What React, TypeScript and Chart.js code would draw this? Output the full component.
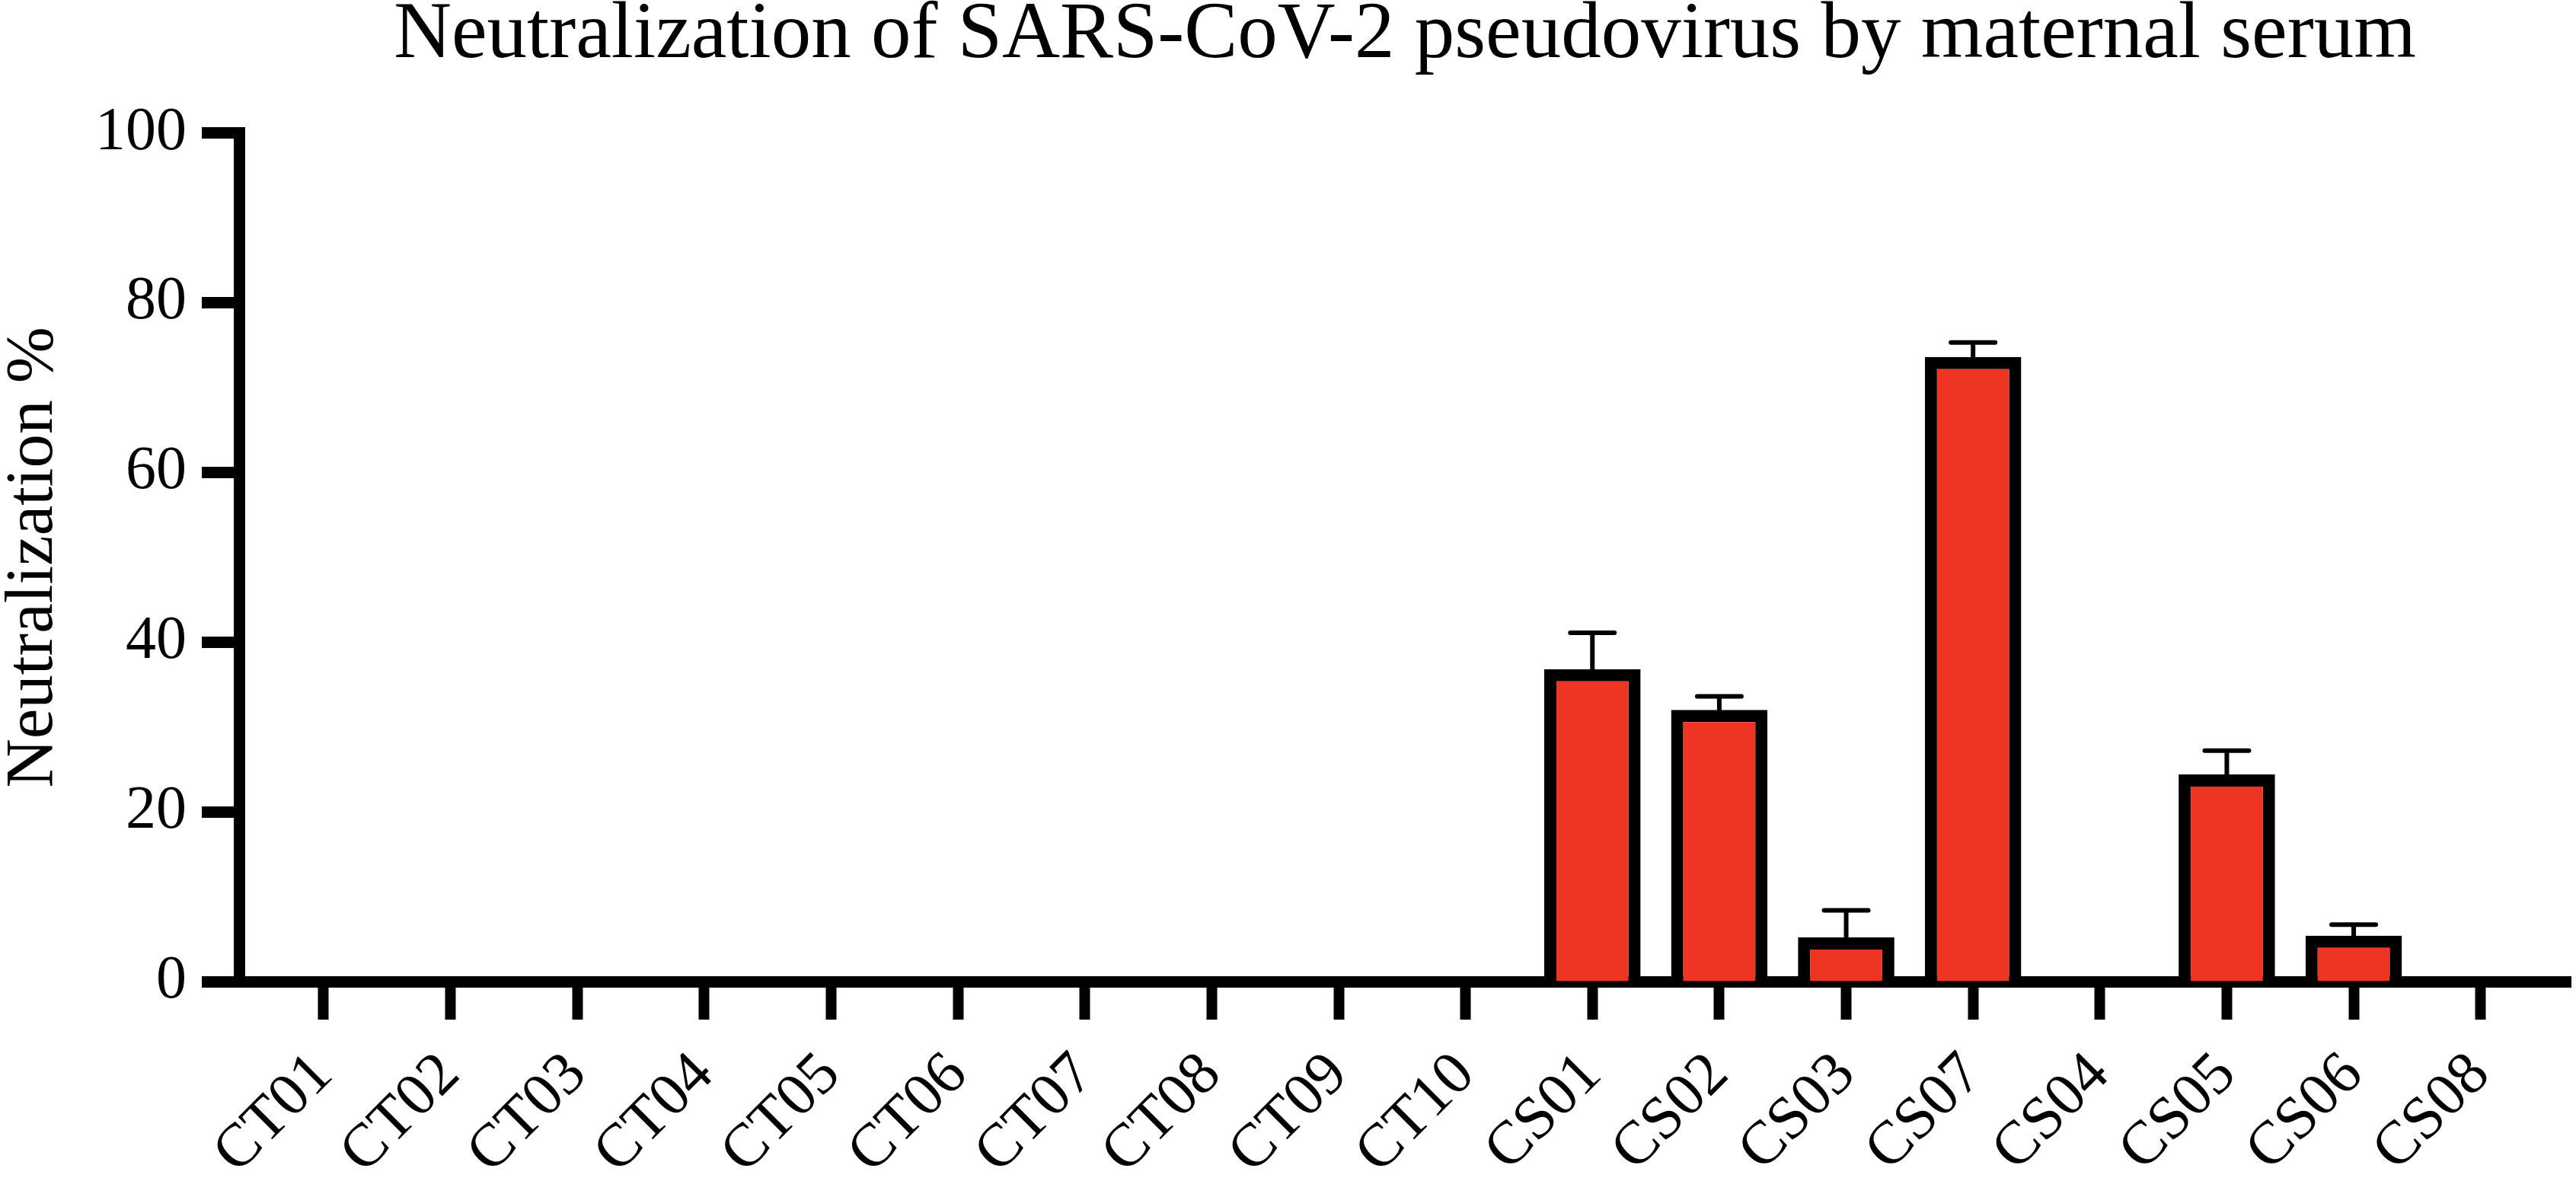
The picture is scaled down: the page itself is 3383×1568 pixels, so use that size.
import React, { useRef, useEffect } from 'react'
import { Chart, registerables } from 'chart.js'

Chart.register(...registerables)

// samples in plotted order
const categories = [
	'CT01', 'CT02', 'CT03', 'CT04', 'CT05', 'CT06', 'CT07', 'CT08', 'CT09', 'CT10',
	'CS01', 'CS02', 'CS03', 'CS07', 'CS04', 'CS05', 'CS06', 'CS08',
]
// mean neutralization %
const neutralization = [0, 0, 0, 0, 0, 0, 0, 0, 0, 0, 36.8, 32.0, 5.2, 73.6, 0, 24.4, 5.4, 0]
// upper error (SD)
const errorPlus = [0, 0, 0, 0, 0, 0, 0, 0, 0, 0, 4.3, 1.6, 3.2, 1.7, 0, 2.8, 1.3, 0]

const yMin = 0
const yMax = 100
const yStep = 20

const FONT = "'Liberation Serif', 'Times New Roman', serif"

const errorBars = {
	id: 'errorBars',
	afterDatasetsDraw(chart: Chart) {
		const { ctx } = chart
		const x = chart.scales.x
		const y = chart.scales.y
		ctx.save()
		ctx.strokeStyle = '#000'
		ctx.lineWidth = 6
		ctx.lineCap = 'round'
		neutralization.forEach((v, i) => {
			const e = errorPlus[i]
			if (!e) return
			const px = x.getPixelForValue(i)
			const base = y.getPixelForValue(v)
			const top = y.getPixelForValue(v + e)
			ctx.beginPath()
			ctx.moveTo(px, base)
			ctx.lineTo(px, top)
			ctx.moveTo(px - 29, top)
			ctx.lineTo(px + 29, top)
			ctx.stroke()
		})
		ctx.restore()
	},
}

const NeutralizationChart: React.FC = () => {
	const chartRef = useRef<HTMLCanvasElement | null>(null)

	useEffect(() => {
		if (!chartRef.current) return
		const ctx = chartRef.current.getContext('2d')
		if (!ctx) return

		const chart = new Chart(ctx, {
			type: 'bar',
			data: {
				datasets: [
					{
						label: 'Neutralization %',
						data: neutralization.map((v, i) => ({ x: i, y: v })),
						backgroundColor: '#EE3524',
						borderColor: '#000',
						borderWidth: 16,
						borderSkipped: 'start',
						barPercentage: 0.76,
						categoryPercentage: 1,
					},
				],
			},
			options: {
				animation: false,
				responsive: true,
				maintainAspectRatio: false,
				layout: { padding: { top: 0, right: 7, bottom: 0, left: 0 } },
				plugins: {
					legend: { display: false },
					tooltip: { enabled: false },
					title: {
						display: true,
						fullSize: false,
						text: 'Neutralization of SARS-CoV-2 pseudovirus by maternal serum',
						color: '#000',
						font: { family: FONT, size: 105, weight: 'normal', lineHeight: 0.9 },
						padding: { top: 0, bottom: 80 },
					},
				},
				scales: {
					x: {
						type: 'linear',
						min: -0.666,
						max: 17.71,
						offset: false,
						afterFit: (scale: any) => {
							scale.height = 279
						},
						border: { display: true, color: '#000', width: 15 },
						grid: {
							offset: false,
							drawOnChartArea: false,
							drawTicks: true,
							tickLength: 50,
							tickWidth: 14,
							tickColor: '#000',
							lineWidth: 1,
						},
						ticks: {
							stepSize: 1,
							includeBounds: false,
							autoSkip: false,
							minRotation: 45,
							maxRotation: 45,
							padding: 26,
							color: '#000',
							font: { family: FONT, size: 80 },
							callback: (value: any) => categories[value as number] ?? '',
						},
					},
					y: {
						min: yMin,
						max: yMax,
						afterFit: (scale: any) => {
							scale.width = 314
						},
						border: { display: true, color: '#000', width: 15 },
						grid: {
							drawOnChartArea: false,
							drawTicks: true,
							tickLength: 49,
							tickWidth: 15,
							tickColor: '#000',
							lineWidth: 1,
						},
						ticks: {
							stepSize: yStep,
							padding: 20,
							color: '#000',
							font: { family: FONT, size: 80 },
						},
						title: {
							display: true,
							text: 'Neutralization %',
							color: '#000',
							font: { family: FONT, size: 89, lineHeight: 1 },
							padding: 0,
						},
					},
				},
			},
			plugins: [errorBars],
		})

		return () => {
			chart.destroy()
		}
	}, [])

	return <canvas ref={chartRef} />
}

export default function App() {
	return (
		<div style={{ position: 'fixed', left: 0, top: 0, width: 3383, height: 1568, background: '#fff' }}>
			<NeutralizationChart />
		</div>
	)
}
